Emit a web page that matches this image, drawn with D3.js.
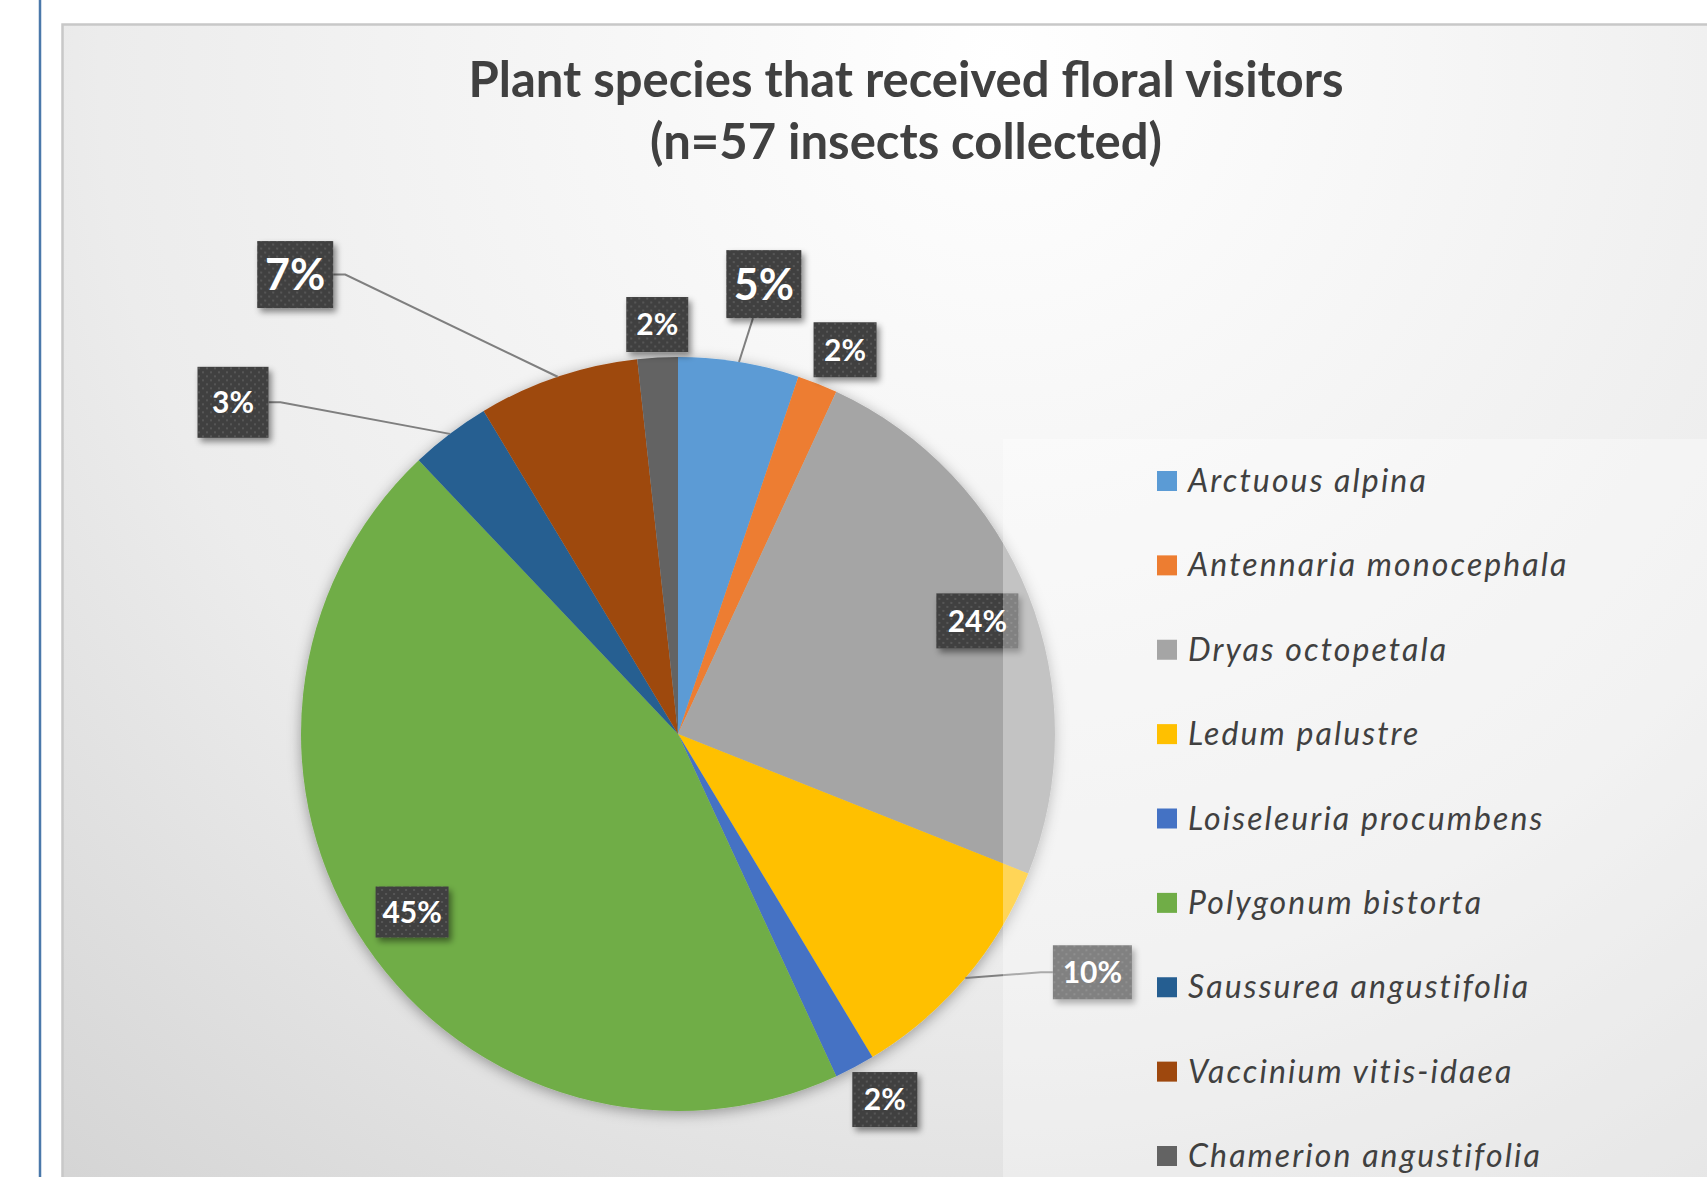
<!DOCTYPE html>
<html>
<head>
<meta charset="utf-8">
<script src="https://cdn.jsdelivr.net/npm/d3@7"></script>
<style>
  body { margin: 0; background: #fff; overflow: hidden; }
  svg { display: block; }
</style>
</head>
<body>
<div id="chart"></div>
<script>
// data
var species = ["Arctuous alpina", "Antennaria monocephala", "Dryas octopetala", "Ledum palustre",
               "Loiseleuria procumbens", "Polygonum bistorta", "Saussurea angustifolia",
               "Vaccinium vitis-idaea", "Chamerion angustifolia"];
var insects = [3, 1, 14, 6, 1, 26, 2, 4, 1];
var titleLines = ["Plant species that received floral visitors", "(n=57 insects collected)"];

var colors = ["#5B9BD5", "#ED7D31", "#A5A5A5", "#FFC000", "#4472C4",
              "#70AD47", "#255E91", "#9E480E", "#636363"];

// where each data label sits: [angle in degrees, distance from centre, box w, box h, font size, leader line]
var labelLayout = [
  [10.8, 458, 75, 68, 43, true],
  [23.5, 419, 63, 55, 30, false],
  [69.3, 320, 82, 55, 30, false],
  [119.9, 478, 79, 54, 30, true],
  [150.5, 420, 65, 55, 30, false],
  [236.2, 320, 73, 51, 30, false],
  [306.7, 555, 71, 71, 30, true],
  [320.2, 598, 76, 67, 43, true],
  [357.1, 410, 62, 55, 30, false]
];

var width = 1707, height = 1177;
var cx = 678, cy = 734, radius = 377;

var svg = d3.select("#chart").append("svg")
    .attr("width", width).attr("height", height);

var defs = svg.append("defs");

var grad = defs.append("radialGradient")
    .attr("id", "bg").attr("gradientUnits", "userSpaceOnUse")
    .attr("cx", 1000).attr("cy", 60).attr("r", 1500);
grad.append("stop").attr("offset", 0).attr("stop-color", "#ffffff");
grad.append("stop").attr("offset", 0.6).attr("stop-color", "#ececec");
grad.append("stop").attr("offset", 1).attr("stop-color", "#d3d3d3");

var pieShadow = defs.append("filter").attr("id", "pieShadow")
    .attr("x", "-20%").attr("y", "-20%").attr("width", "140%").attr("height", "140%");
pieShadow.append("feDropShadow").attr("dx", 0).attr("dy", 3).attr("stdDeviation", 7)
    .attr("flood-color", "#000").attr("flood-opacity", 0.35);

var boxShadow = defs.append("filter").attr("id", "boxShadow")
    .attr("x", "-30%").attr("y", "-30%").attr("width", "160%").attr("height", "160%");
boxShadow.append("feDropShadow").attr("dx", 3).attr("dy", 4).attr("stdDeviation", 3)
    .attr("flood-color", "#000").attr("flood-opacity", 0.45);

var dots = defs.append("pattern").attr("id", "dots").attr("patternUnits", "userSpaceOnUse")
    .attr("width", 8).attr("height", 8);
dots.append("rect").attr("width", 8).attr("height", 8).attr("fill", "#404040");
dots.append("rect").attr("x", 1).attr("y", 1).attr("width", 2).attr("height", 2).attr("fill", "#575757");
dots.append("rect").attr("x", 5).attr("y", 5).attr("width", 2).attr("height", 2).attr("fill", "#575757");

// page bits around the chart
svg.append("line").attr("x1", 40).attr("x2", 40).attr("y1", 0).attr("y2", height)
    .style("stroke", "#4a78aa").style("stroke-width", 2.5);

svg.append("rect")
    .attr("x", 62.5).attr("y", 24.5).attr("width", 1700).attr("height", 1200)
    .attr("fill", "url(#bg)")
    .style("stroke", "#c8c8c8").style("stroke-width", 2.5);

// title
svg.append("g").selectAll("text").data(titleLines).enter().append("text")
    .attr("x", 906)
    .attr("y", function(d, i) { return 97 + i * 62; })
    .attr("text-anchor", "middle")
    .attr("font-family", "Lato, 'Open Sans', sans-serif")
    .attr("font-weight", "bold")
    .attr("font-size", "49px")
    .attr("fill", "#404040")
    .text(function(d) { return d; });

// pie
var pie = d3.pie().sort(null).value(function(d) { return d; });
var arcs = pie(insects);
var arc = d3.arc().innerRadius(0).outerRadius(radius);
var edgeArc = d3.arc().innerRadius(radius).outerRadius(radius);
var total = d3.sum(insects);
var fmt = d3.format(".0%");

var g = svg.append("g").attr("transform", "translate(" + cx + "," + cy + ")");

g.append("g").attr("filter", "url(#pieShadow)")
  .selectAll("path").data(arcs).enter().append("path")
    .attr("d", arc)
    .attr("fill", function(d, i) { return colors[i]; });

// data labels
var labels = arcs.map(function(d, i) {
  var L = labelLayout[i];
  var p = d3.pointRadial(L[0] * Math.PI / 180, L[1]);
  return {
    arc: d, text: fmt(d.value / total),
    x: p[0], y: p[1], w: L[2], h: L[3], size: L[4], leader: L[5]
  };
});

var leaderPath = function(l) {
  var e = edgeArc.centroid(l.arc);
  var x0 = l.x - l.w / 2, x1 = l.x + l.w / 2, y0 = l.y - l.h / 2, y1 = l.y + l.h / 2;
  var dx = l.x - e[0], dy = l.y - e[1];
  if (Math.abs(dx) > Math.abs(dy)) {
    var side = dx > 0 ? x0 : x1;
    var elbow = dx > 0 ? side - 12 : side + 12;
    return d3.line()([e, [elbow, l.y], [side, l.y]]);
  }
  var yEdge = dy > 0 ? y0 : y1;
  var t = (yEdge - e[1]) / dy;
  return d3.line()([e, [e[0] + dx * t, yEdge]]);
};

g.append("g").selectAll("path").data(labels.filter(function(l) { return l.leader; }))
  .enter().append("path")
    .attr("d", leaderPath)
    .attr("fill", "none")
    .style("stroke", "#7f7f7f").style("stroke-width", 2);

var lab = g.append("g").selectAll("g").data(labels).enter().append("g")
    .attr("transform", function(l) { return "translate(" + l.x + "," + l.y + ")"; });
lab.append("rect")
    .attr("x", function(l) { return -l.w / 2; })
    .attr("y", function(l) { return -l.h / 2; })
    .attr("width", function(l) { return l.w; })
    .attr("height", function(l) { return l.h; })
    .attr("fill", "url(#dots)")
    .attr("filter", "url(#boxShadow)");
lab.append("text")
    .attr("text-anchor", "middle")
    .attr("dy", "0.36em")
    .attr("font-family", "Lato, 'Open Sans', sans-serif")
    .attr("font-weight", "bold")
    .attr("font-size", function(l) { return l.size + "px"; })
    .attr("fill", "#ffffff")
    .text(function(l) { return l.text; });

// legend, with its see-through white box over the pie
svg.append("rect")
    .attr("x", 1003).attr("y", 439).attr("width", 800).attr("height", 800)
    .attr("fill", "#ffffff").attr("fill-opacity", 0.34);

var ly = d3.scalePoint().domain(species).range([481, 1156]);
var legend = svg.append("g").selectAll("g").data(species).enter().append("g")
    .attr("transform", function(d) { return "translate(1157," + ly(d) + ")"; });
legend.append("rect")
    .attr("x", 0).attr("y", -10).attr("width", 20).attr("height", 20)
    .attr("fill", function(d, i) { return colors[i]; });
legend.append("text")
    .attr("x", 31).attr("y", 11)
    .attr("font-family", "Lato, 'Open Sans', sans-serif")
    .attr("font-style", "italic")
    .attr("font-size", "32px")
    .attr("letter-spacing", "2.1px")
    .attr("fill", "#404040")
    .text(function(d) { return d; });
</script>
</body>
</html>
